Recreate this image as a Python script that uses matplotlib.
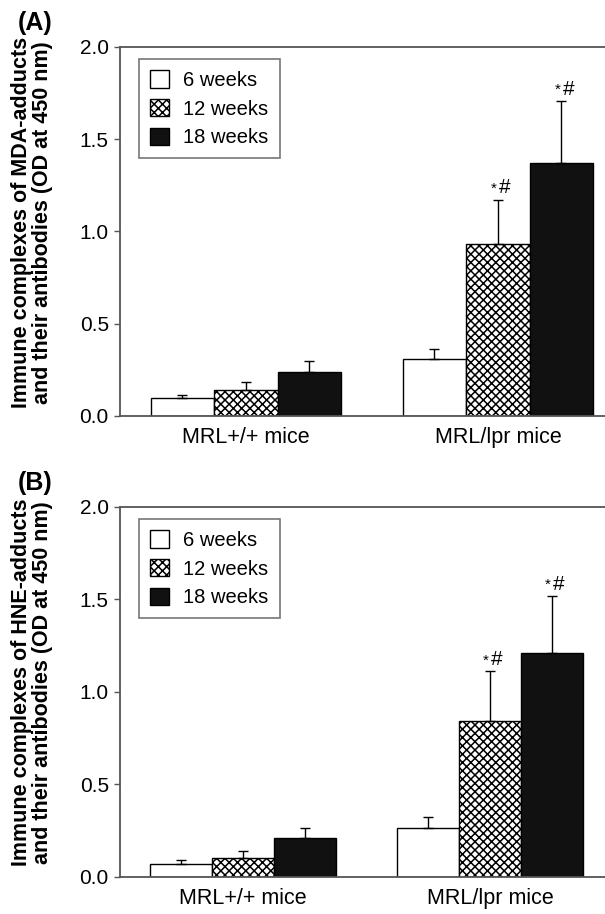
import numpy as np
import matplotlib
matplotlib.use("Agg")
import matplotlib.pyplot as plt

plt.rcParams['font.family'] = ['Liberation Sans', 'DejaVu Sans']
plt.rcParams['hatch.linewidth'] = 1.1

groups = ["MRL+/+ mice", "MRL/lpr mice"]
series = ["6 weeks", "12 weeks", "18 weeks"]

# panel A: MDA-adducts
mda_mean = [[0.10, 0.31], [0.143, 0.93], [0.236, 1.37]]
mda_err = [[0.015, 0.052], [0.04, 0.24], [0.061, 0.335]]
# panel B: HNE-adducts
hne_mean = [[0.07, 0.264], [0.105, 0.841], [0.209, 1.209]]
hne_err = [[0.021, 0.059], [0.036, 0.27], [0.057, 0.308]]

# which bars get the "*#" mark: (series index, group index)
marked = [(1, 1), (2, 1)]

ylabels = ["Immune complexes of MDA-adducts\nand their antibodies (OD at 450 nm)",
           "Immune complexes of HNE-adducts\nand their antibodies (OD at 450 nm)"]
panel_tags = ["(A)", "(B)"]

faces = ["white", "white", "#111111"]
hatches = [None, "xxxx", None]


def draw_panel(ax, means, errs, ylabel, tag, fig_y, xlim):
    x = np.arange(len(groups))
    w = 0.252
    for i, s in enumerate(series):
        xi = x + (i - 1) * w
        ax.bar(xi, means[i], w, color=faces[i], edgecolor="black",
               linewidth=1.0, hatch=hatches[i], label=s, zorder=2)
        ax.errorbar(xi, means[i], yerr=[np.zeros(len(groups)), errs[i]],
                    fmt="none", ecolor="black", elinewidth=1.0,
                    capsize=3.5, capthick=1.0, zorder=3)
    for (i, g) in marked:
        xi = x[g] + (i - 1) * w
        top = means[i][g] + errs[i][g]
        ax.annotate("*", (xi, top), xytext=(-3, 3), textcoords="offset points",
                    ha="center", va="bottom", fontsize=11)
        ax.annotate("#", (xi, top), xytext=(5, 2), textcoords="offset points",
                    ha="center", va="bottom", fontsize=15)

    ax.set_ylim(0, 2.0)
    ax.set_xlim(*xlim)
    ax.set_yticks([0, 0.5, 1.0, 1.5, 2.0])
    ax.set_yticklabels(["0.0", "0.5", "1.0", "1.5", "2.0"])
    ax.set_xticks(x)
    ax.set_xticklabels(groups)
    ax.tick_params(axis="y", direction="out", length=4, width=1,
                   color="#555555", labelsize=15, pad=4)
    ax.tick_params(axis="x", length=0, labelsize=15.5, pad=8)
    for side in ["left", "top", "bottom"]:
        ax.spines[side].set_color("#555555")
        ax.spines[side].set_linewidth(1.3)
    ax.spines["right"].set_visible(False)

    ax.set_ylabel(ylabel, fontsize=15.5, fontweight="bold", va="center",
                  linespacing=1.0)
    ax.yaxis.set_label_coords(-0.181, 0.525)

    leg = ax.legend(loc="upper left", bbox_to_anchor=(0.039, 0.967),
                    borderaxespad=0, fontsize=14.5, fancybox=False,
                    edgecolor="#555555", handlelength=0.95, handleheight=0.95,
                    handletextpad=0.7, labelspacing=0.45, borderpad=0.55)
    leg.get_frame().set_linewidth(1.2)

    ax.figure.text(0.03, fig_y, tag, fontsize=18, fontweight="bold",
                   va="top", ha="left")


fig = plt.figure(figsize=(6.05, 9.14), dpi=100)
ax1 = fig.add_axes([0.1983, 0.5449, 0.8017, 0.4037])
ax2 = fig.add_axes([0.1983, 0.0405, 0.8017, 0.4048])

draw_panel(ax1, mda_mean, mda_err, ylabels[0], panel_tags[0], 0.988, (-0.5, 1.425))
draw_panel(ax2, hne_mean, hne_err, ylabels[1], panel_tags[1], 0.485, (-0.498, 1.466))

fig.savefig("out.png", dpi=100)
